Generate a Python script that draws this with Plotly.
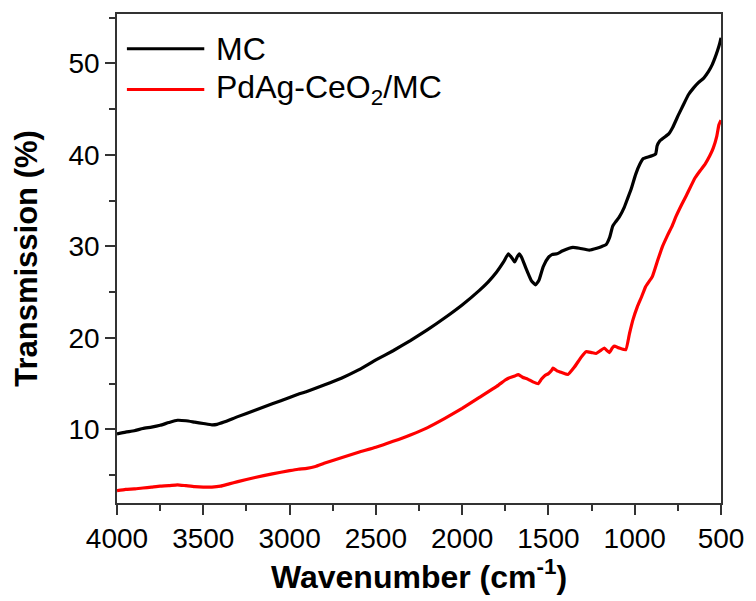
import plotly.graph_objects as go

# FTIR transmission spectra (wavenumber in cm^-1, transmission in %)
mc_wavenumber = [4000, 3950, 3900, 3850, 3800, 3750, 3700, 3650, 3600, 3550, 3500, 3450, 3420, 3380,
                 3300, 3200, 3100, 3000, 2950, 2900, 2800, 2700, 2600, 2500, 2400, 2300, 2200, 2100,
                 2000, 1900, 1850, 1800, 1760, 1732, 1710, 1696, 1680, 1669, 1655, 1630, 1600, 1575,
                 1555, 1530, 1500, 1480, 1450, 1420, 1380, 1358, 1320, 1264, 1220, 1190, 1166, 1145,
                 1128, 1110, 1090, 1060, 1042, 1020, 994, 970, 950, 937, 900, 879, 870, 856, 830, 803,
                 780, 746, 720, 688, 660, 631, 600, 573, 550, 535, 520, 506, 500]
mc_transmission = [9.5, 9.7, 9.85, 10.1, 10.25, 10.45, 10.75, 11.0, 10.95, 10.8, 10.65, 10.5, 10.55, 10.8,
                   11.4, 12.1, 12.8, 13.5, 13.85, 14.15, 14.85, 15.6, 16.5, 17.6, 18.6, 19.7, 20.9, 22.2,
                   23.6, 25.2, 26.1, 27.2, 28.3, 29.2, 28.7, 28.3, 28.9, 29.2, 28.8, 27.6, 26.3, 25.8,
                   26.3, 27.8, 28.8, 29.1, 29.2, 29.5, 29.8, 29.9, 29.8, 29.6, 29.8, 30.0, 30.2, 31.0,
                   32.2, 32.7, 33.2, 34.3, 35.2, 36.3, 37.9, 39.0, 39.6, 39.7, 39.9, 40.1, 41.0, 41.5,
                   41.9, 42.3, 43.0, 44.4, 45.4, 46.6, 47.3, 47.9, 48.4, 49.1, 49.9, 50.6, 51.4, 52.3, 52.8]

pdag_wavenumber = [4000, 3950, 3900, 3850, 3800, 3750, 3700, 3650, 3600, 3550, 3500, 3450, 3400, 3350,
                   3300, 3200, 3100, 3000, 2950, 2900, 2850, 2800, 2700, 2600, 2500, 2400, 2300, 2200,
                   2100, 2000, 1900, 1800, 1750, 1732, 1700, 1674, 1650, 1620, 1590, 1559, 1540, 1520,
                   1500, 1480, 1473, 1450, 1420, 1387, 1350, 1310, 1282, 1250, 1224, 1200, 1176, 1160,
                   1147, 1130, 1119, 1090, 1052, 1030, 1010, 985, 960, 937, 898, 870, 841, 810, 784,
                   760, 727, 700, 650, 620, 592, 565, 544, 525, 512, 500]
pdag_transmission = [3.3, 3.45, 3.5, 3.6, 3.7, 3.8, 3.85, 3.95, 3.85, 3.75, 3.7, 3.7, 3.8, 4.05,
                     4.3, 4.75, 5.15, 5.5, 5.65, 5.75, 5.95, 6.3, 6.9, 7.5, 8.05, 8.7, 9.4, 10.2,
                     11.2, 12.3, 13.5, 14.7, 15.4, 15.6, 15.8, 16.0, 15.7, 15.5, 15.2, 15.0, 15.5, 15.9,
                     16.1, 16.5, 16.7, 16.4, 16.2, 16.0, 16.8, 17.9, 18.5, 18.4, 18.3, 18.6, 18.9, 18.6,
                     18.4, 18.9, 19.1, 18.9, 18.7, 20.5, 22.0, 23.4, 24.5, 25.6, 26.7, 28.3, 29.9, 31.2, 32.2,
                     33.3, 34.6, 35.6, 37.5, 38.3, 39.0, 39.9, 40.8, 42.0, 43.3, 43.8]

series_names = ["MC", "PdAg-CeO<sub>2</sub>/MC"]
series_colors = ["#000000", "#ff0000"]

FONT = "Arial, 'Liberation Sans', sans-serif"

fig = go.Figure()
fig.add_trace(go.Scatter(x=mc_wavenumber, y=mc_transmission, mode="lines",
                         line=dict(color=series_colors[0], width=3.2, shape="spline", smoothing=0.4),
                         name=series_names[0], showlegend=False))
fig.add_trace(go.Scatter(x=pdag_wavenumber, y=pdag_transmission, mode="lines",
                         line=dict(color=series_colors[1], width=3.2, shape="spline", smoothing=0.4),
                         name=series_names[1], showlegend=False))

# Legend drawn inside the frame: long line samples with labels
legend_rows_y = [0.929, 0.8455]
for name, color, yy in zip(series_names, series_colors, legend_rows_y):
    fig.add_shape(type="line", xref="paper", yref="paper", x0=0.0164, x1=0.1445, y0=yy, y1=yy,
                  line=dict(color=color, width=3))
    fig.add_annotation(xref="paper", yref="paper", x=0.161, y=yy, text=name, showarrow=False,
                       xanchor="left", yanchor="middle", font=dict(family=FONT, size=32, color="#000000"))

axis_common = dict(
    showline=True, linecolor="#333333", linewidth=1.5, mirror=True,
    ticks="outside", ticklen=10, tickwidth=1.5, tickcolor="#333333",
    showgrid=False, zeroline=False,
    tickfont=dict(family=FONT, size=28, color="#000000"),
)

fig.update_xaxes(range=[4000, 500], tickvals=[4000, 3500, 3000, 2500, 2000, 1500, 1000, 500],
                 minor=dict(dtick=250, tick0=500, ticks="outside", ticklen=6, tickwidth=1.5,
                            tickcolor="#333333"),
                 title=dict(text="<b>Wavenumber (cm<sup>-1</sup>)</b>", standoff=12,
                            font=dict(family=FONT, size=32, color="#000000")),
                 **axis_common)
fig.update_yaxes(range=[1.96, 55.4], tickvals=[10, 20, 30, 40, 50],
                 minor=dict(dtick=5, tick0=0, ticks="outside", ticklen=6, tickwidth=1.5,
                            tickcolor="#333333"),
                 title=dict(text="<b>Transmission (%)</b>", standoff=22,
                            font=dict(family=FONT, size=31, color="#000000")),
                 **axis_common)

fig.update_layout(
    width=756, height=601,
    margin=dict(l=117, r=30, t=12, b=97),
    paper_bgcolor="white", plot_bgcolor="white",
    font=dict(family=FONT, color="#000000"),
)

fig.write_html("out.html")
